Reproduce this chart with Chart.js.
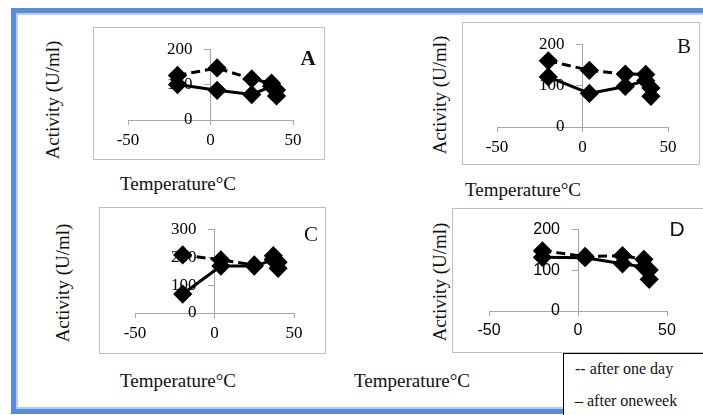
<!DOCTYPE html>
<html>
<head>
<meta charset="utf-8">
<title>Activity vs temperature</title>
<script src="https://cdn.jsdelivr.net/npm/chart.js@4.4.1/dist/chart.umd.min.js"></script>
<style>
  body { margin: 0; background: #fff; font-family: "Liberation Serif", "DejaVu Serif", serif; color: #111; }
  #page { position: relative; width: 703px; height: 415px; overflow: hidden; }
  .frame { position: absolute; left: 11px; top: 8px; width: 700px; height: 406px; box-sizing: border-box;
           border: 5px solid #5b8cd8; border-right: none; }
  .frame::after { content: ""; position: absolute; left: 0; top: 0; right: 0; bottom: 0;
                  border: 2px solid #b3cdf0; border-right: none; }
  .box { position: absolute; border: 1px solid #bfbfbf; box-sizing: border-box; background: #fff; }
  canvas { position: absolute; }
  .txt { position: absolute; white-space: nowrap; font-size: 19px; transform: translate(-50%, -50%); }
  .rot { transform: translate(-50%, -50%) rotate(-90deg); }
  .legend { position: absolute; left: 563px; top: 353px; width: 160px; height: 80px; border: 1px solid #000;
            background: #fff; font-size: 16px; }
  .legend div { position: absolute; left: 11px; transform: translateY(-50%); }
</style>
</head>
<body>
<div id="page">
  <div class="frame"></div>
</div>
<script>
const temps = [-20, 4, 25, 37, 40];
const dayA = [126, 147, 116, 104, 85];
const weekA = [100, 84, 72, 95, 68];
const dayB = [160, 137, 128, 127, 94];
const weekB = [121, 81, 98, 112, 74];
const dayC = [208, 190, 172, 205, 182];
const weekC = [68, 168, 168, 190, 160];
const dayD = [148, 134, 136, 127, 101];
const weekD = [132, 131, 116, 108, 78];
const xTicks = [-50, 0, 50];
const yTicks200 = [0, 100, 200];
const yTicks300 = [0, 100, 200, 300];
const seriesNames = ["after one day", "after oneweek"];
const panelNames = ["A", "B", "C", "D"];

// box = outer grey frame, ax = pixel spots of x -50/50 and y max/0
const panels = [
  { day: dayA, week: weekA, yTicks: yTicks200, box: [93, 27, 325, 160], ax: [128, 293, 45, 120],
    font: "Liberation Serif", letter: [308, 58, "bold"], ytitle: [53, 100], xtitle: [178, 184] },
  { day: dayB, week: weekB, yTicks: yTicks200, box: [462, 22, 700, 165], ax: [497, 668, 41, 127],
    font: "Liberation Serif", letter: [684, 46, "normal"], ytitle: [440, 95], xtitle: [523, 190] },
  { day: dayC, week: weekC, yTicks: yTicks300, box: [99, 207, 326, 354], ax: [135, 294, 225, 313],
    font: "Liberation Serif", letter: [311, 234, "normal"], ytitle: [63, 283], xtitle: [178, 381] },
  { day: dayD, week: weekD, yTicks: yTicks200, box: [452, 208, 706, 353], ax: [489, 667, 226, 311],
    font: "Liberation Sans", letter: [677, 229, "normal"], ytitle: [440, 282], xtitle: [412, 381] }
];

const page = document.getElementById("page");

function addText(text, x, y, cls, style) {
  const el = document.createElement("div");
  el.className = "txt " + (cls || "");
  el.textContent = text;
  el.style.left = x + "px";
  el.style.top = y + "px";
  Object.assign(el.style, style || {});
  page.appendChild(el);
}

function points(vals) {
  return temps.map((t, i) => ({ x: t, y: vals[i] }));
}

function makePanel(p, idx) {
  const [L, T, R, B] = p.box;
  const box = document.createElement("div");
  box.className = "box";
  Object.assign(box.style, { left: L + "px", top: T + "px", width: (R - L) + "px", height: (B - T) + "px" });
  page.appendChild(box);

  const cv = document.createElement("canvas");
  cv.width = R - L;
  cv.height = B - T;
  cv.style.left = L + "px";
  cv.style.top = T + "px";
  page.appendChild(cv);

  const [xl, xr, yt, yb] = p.ax;
  const tickFont = { family: p.font, size: p.font === "Liberation Sans" ? 16 : 17 };
  const yMax = p.yTicks[p.yTicks.length - 1];
  const marker = { pointStyle: "rectRot", pointRadius: 7.5, pointBackgroundColor: "#000", pointBorderColor: "#000",
                   borderColor: "#000", borderWidth: 3, showLine: true, tension: 0 };

  new Chart(cv, {
    type: "scatter",
    data: {
      datasets: [
        Object.assign({ label: seriesNames[0], data: points(p.day), borderDash: [9, 5] }, marker),
        Object.assign({ label: seriesNames[1], data: points(p.week) }, marker)
      ]
    },
    options: {
      responsive: false,
      animation: false,
      layout: { padding: { left: xl - L, right: R - xr, top: yt - T, bottom: 0 } },
      plugins: { legend: { display: false }, tooltip: { enabled: false } },
      scales: {
        x: {
          type: "linear", position: "bottom", min: -50, max: 50,
          afterBuildTicks: s => { s.ticks = xTicks.map(v => ({ value: v })); },
          afterFit: s => { s.height = B - yb; },
          border: { color: "#a6a6a6" },
          grid: { drawOnChartArea: false, tickLength: 5, tickColor: "#a6a6a6" },
          ticks: { color: "#000", font: tickFont, padding: 5, maxRotation: 0, autoSkip: false }
        },
        y: {
          type: "linear", position: "center", min: 0, max: yMax,
          afterBuildTicks: s => { s.ticks = p.yTicks.map(v => ({ value: v })); },
          afterFit: s => { s.width = 0; },
          border: { color: "#a6a6a6" },
          grid: { drawOnChartArea: false, tickLength: 6, tickColor: "#a6a6a6" },
          ticks: { color: "#000", font: tickFont, padding: 12 }
        }
      }
    }
  });

  addText(panelNames[idx], p.letter[0], p.letter[1], "",
          { fontSize: "21px", fontWeight: p.letter[2], fontFamily: p.font });
  addText("Activity (U/ml)", p.ytitle[0], p.ytitle[1], "rot");
  addText("Temperature°C", p.xtitle[0], p.xtitle[1]);
}

panels.forEach(makePanel);

const legend = document.createElement("div");
legend.className = "legend";
legend.innerHTML = "<div style='top:15px'>-- " + seriesNames[0] + "</div>" +
                   "<div style='top:47px'>– " + seriesNames[1] + "</div>";
page.appendChild(legend);
</script>
</body>
</html>
